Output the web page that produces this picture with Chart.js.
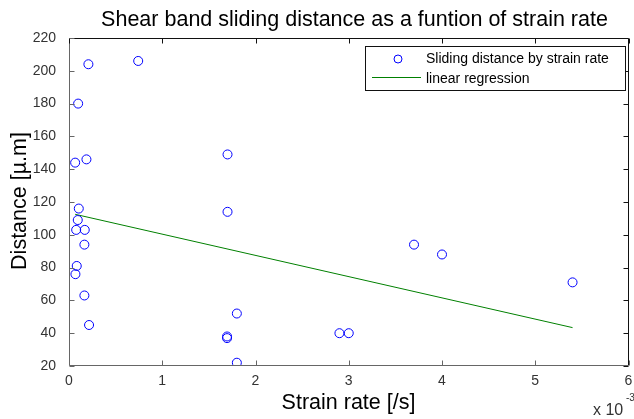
<!DOCTYPE html>
<html>
<head>
<meta charset="utf-8">
<script src="https://cdn.jsdelivr.net/npm/chart.js@4"></script>
<style>
  html, body { margin: 0; padding: 0; background: #fff; }
  #wrap { width: 634px; height: 419px; }
</style>
</head>
<body>
<div id="wrap"><canvas id="myChart" width="634" height="419"></canvas></div>
<script>
"use strict";

// strain rate in units of 1e-3 /s, distance in micrometres
const strainRate = [0.208, 0.742, 0.098, 0.066, 0.187, 1.70, 0.105, 0.094, 0.077, 0.169,
                    0.165, 0.083, 0.069, 0.165, 0.215, 1.70, 1.80, 1.695, 1.695, 1.80,
                    2.90, 3.00, 3.70, 4.00, 5.40];
const distance = [204, 206, 180, 144, 146, 149, 116, 109, 103, 103,
                  94, 81, 76, 63, 45, 114, 52, 38, 37, 22,
                  40, 40, 94, 88, 71];
// regression line end points
const fitX = [0.066, 5.40];
const fitY = [112.5, 43.4];
const xTicks = [0, 1, 2, 3, 4, 5, 6];
const yTicks = [20, 40, 60, 80, 100, 120, 140, 160, 180, 200, 220];

const FONT = "'Liberation Sans', Arial, Helvetica, sans-serif";
const BLUE = "rgb(0, 0, 255)";
const GREEN = "rgb(0, 128, 0)";

// matlab style box, inward ticks, titles and legend
const matlabFrame = {
    id: "matlabFrame",
    afterDraw(chart) {
        const ctx = chart.ctx;
        const a = chart.chartArea;
        const xs = chart.scales.x;
        const ys = chart.scales.y;
        const L = Math.round(a.left) + 0.5, R = Math.round(a.right) - 0.5;
        const T = Math.round(a.top) + 0.5, B = Math.round(a.bottom) - 0.5;
        ctx.save();
        ctx.lineWidth = 1;

        // box
        ctx.strokeStyle = "#111";
        ctx.beginPath();
        ctx.moveTo(L, T); ctx.lineTo(R, T); ctx.lineTo(R, B);
        ctx.stroke();
        ctx.strokeStyle = "#666";
        ctx.beginPath();
        ctx.moveTo(L, T); ctx.lineTo(L, B); ctx.lineTo(R, B);
        ctx.stroke();

        // ticks
        const tl = 5;
        xTicks.forEach(v => {
            const px = Math.round(xs.getPixelForValue(v)) + 0.5;
            ctx.strokeStyle = "#666";
            ctx.beginPath(); ctx.moveTo(px, B); ctx.lineTo(px, B - tl); ctx.stroke();
            ctx.strokeStyle = "#111";
            ctx.beginPath(); ctx.moveTo(px, T); ctx.lineTo(px, T + tl); ctx.stroke();
        });
        yTicks.forEach(v => {
            const py = Math.round(ys.getPixelForValue(v)) + 0.5;
            ctx.strokeStyle = "#666";
            ctx.beginPath(); ctx.moveTo(L, py); ctx.lineTo(L + tl, py); ctx.stroke();
            ctx.strokeStyle = "#111";
            ctx.beginPath(); ctx.moveTo(R, py); ctx.lineTo(R - tl, py); ctx.stroke();
        });

        // titles
        ctx.fillStyle = "#000";
        ctx.textAlign = "center";
        ctx.textBaseline = "alphabetic";
        ctx.font = "21.5px " + FONT;
        ctx.fillText("Shear band sliding distance as a funtion of strain rate", 354.5, 26);
        ctx.fillText("Strain rate [/s]", 348.5, 409);
        ctx.save();
        ctx.translate(26, 201);
        ctx.rotate(-Math.PI / 2);
        ctx.fillText("Distance [\u00b5.m]", 0, 0);
        ctx.restore();

        // exponent
        ctx.fillStyle = "#333";
        ctx.textAlign = "left";
        ctx.font = "16px " + FONT;
        ctx.fillText("x 10", 593, 415);
        ctx.font = "10px " + FONT;
        ctx.fillText("-3", 626, 401);

        // legend
        ctx.fillStyle = "#fff";
        ctx.fillRect(365.5, 46.5, 260, 44);
        ctx.strokeStyle = "#111";
        ctx.strokeRect(365.5, 46.5, 260, 44);
        ctx.strokeStyle = BLUE;
        ctx.beginPath(); ctx.arc(398, 59, 4, 0, Math.PI * 2); ctx.stroke();
        ctx.strokeStyle = GREEN;
        ctx.beginPath(); ctx.moveTo(372, 77.5); ctx.lineTo(421, 77.5); ctx.stroke();
        ctx.fillStyle = "#000";
        ctx.font = "14px " + FONT;
        ctx.textBaseline = "middle";
        ctx.fillText(chart.data.datasets[0].label, 426, 59);
        ctx.fillText(chart.data.datasets[1].label, 426, 79);
        ctx.restore();
    }
};

const points = strainRate.map((x, i) => ({ x: x, y: distance[i] }));
const fitLine = fitX.map((x, i) => ({ x: x, y: fitY[i] }));

const ctx = document.getElementById("myChart").getContext("2d");
const chart = new Chart(ctx, {
    type: "scatter",
    data: {
        datasets: [
            {
                label: "Sliding distance by strain rate",
                data: points,
                borderColor: BLUE,
                backgroundColor: "rgba(0,0,0,0)",
                borderWidth: 1,
                pointRadius: 4.5,
                pointStyle: "circle"
            },
            {
                label: "linear regression",
                type: "line",
                data: fitLine,
                borderColor: GREEN,
                borderWidth: 1,
                pointRadius: 0,
                fill: false
            }
        ]
    },
    options: {
        responsive: false,
        animation: false,
        layout: { padding: { top: 38, right: 2, left: 0, bottom: 0 } },
        plugins: {
            legend: { display: false },
            tooltip: { enabled: false },
            title: { display: false }
        },
        scales: {
            x: {
                type: "linear",
                min: 0,
                max: 6,
                afterBuildTicks: s => { s.ticks = xTicks.map(v => ({ value: v })); },
                afterFit: s => { s.height = 53; },
                grid: { display: false },
                border: { display: false },
                ticks: { color: "#333", padding: -1, font: { family: FONT, size: 14 } }
            },
            y: {
                min: 20,
                max: 220,
                afterBuildTicks: s => { s.ticks = yTicks.map(v => ({ value: v })); },
                afterFit: s => { s.width = 69; },
                grid: { display: false },
                border: { display: false },
                ticks: { color: "#333", padding: 5, font: { family: FONT, size: 14 } }
            }
        }
    },
    plugins: [matlabFrame]
});
</script>
</body>
</html>
